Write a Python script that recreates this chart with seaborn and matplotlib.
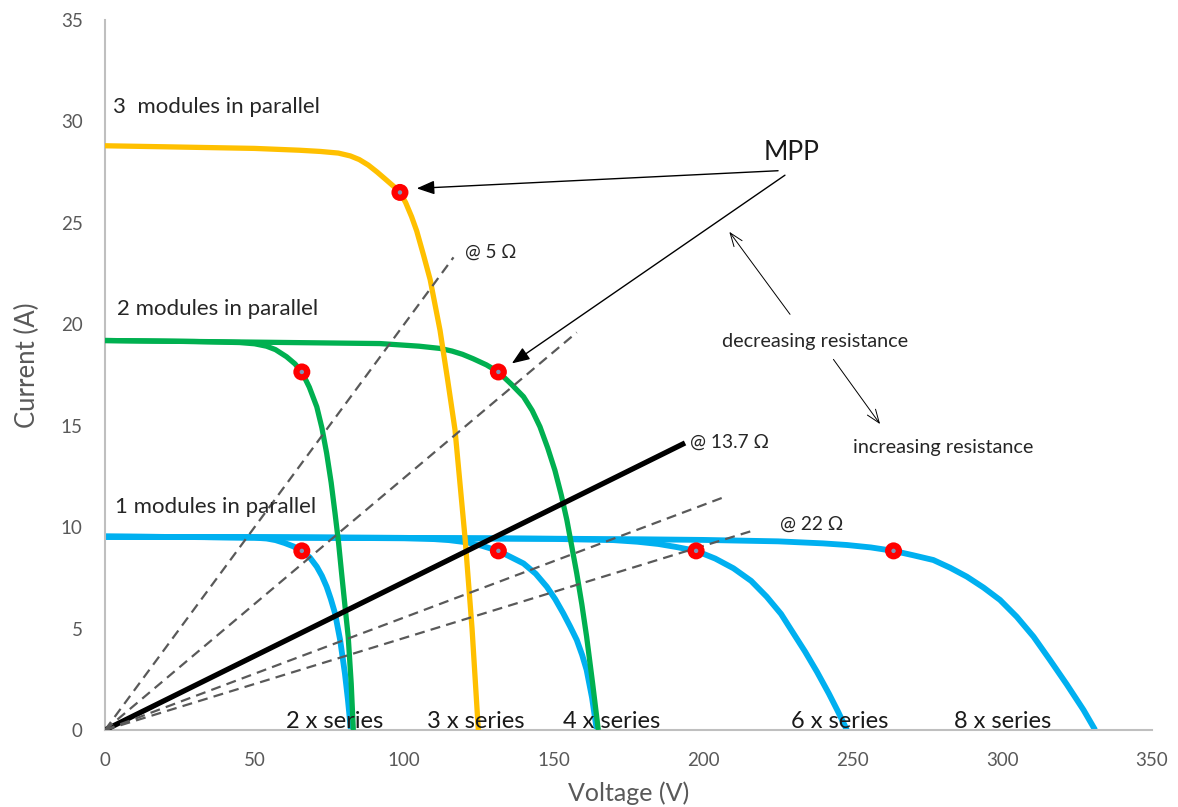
import matplotlib
matplotlib.use("Agg")
import matplotlib.pyplot as plt
import seaborn as sns
import pandas as pd

# ---- I-V curves (voltage V, current A) ----
# 1 module in parallel, 2 / 4 / 6 / 8 modules in series
blue_2s_v = [0, 30, 50, 54, 57, 60, 63, 65.8, 68.5, 70.8, 72.5, 74.1, 75.5, 76.9, 78.6, 80.2, 81.2, 82.2]
blue_2s_i = [9.53, 9.51, 9.48, 9.44, 9.36, 9.22, 9.05, 8.83, 8.5, 8.05, 7.6, 7.06, 6.45, 5.75, 4.44, 2.79, 1.5, 0]

blue_4s_v = [0, 50, 100, 110, 115, 121, 126, 131.5, 136, 139.9, 144, 147.7, 150.5, 153.2, 155.5, 157.7, 159.5, 161, 162.8, 164.4]
blue_4s_i = [9.53, 9.5, 9.45, 9.41, 9.36, 9.25, 9.08, 8.83, 8.5, 8.21, 7.7, 7.06, 6.45, 5.75, 5.1, 4.44, 3.7, 2.96, 1.6, 0]

blue_6s_v = [0, 50, 100, 150, 170, 178, 185, 191, 197.6, 204, 210.1, 216, 221.2, 226, 230.1, 234, 238, 242, 245, 248]
blue_6s_i = [9.53, 9.5, 9.47, 9.42, 9.36, 9.28, 9.17, 9.02, 8.83, 8.45, 7.97, 7.35, 6.57, 5.72, 4.77, 3.87, 2.87, 1.79, 0.92, 0]

blue_8s_v = [0, 50, 100, 150, 180, 200, 225, 240, 248, 256, 263.6, 270, 276.9, 282.5, 288.1, 293.7, 299.2,
             304.8, 310.4, 315.9, 321.5, 327.1, 331]
blue_8s_i = [9.53, 9.5, 9.47, 9.43, 9.4, 9.37, 9.3, 9.2, 9.12, 9.0, 8.83, 8.62, 8.38, 8.0, 7.56, 7.02, 6.41,
             5.58, 4.6, 3.45, 2.25, 0.99, 0]

# 2 modules in parallel, 2 / 4 modules in series
green_2s_v = [0, 30, 45, 50, 54, 57, 60.7, 63.5, 65.8, 68.3, 70.8, 72.5, 74.1, 75.6, 76.9, 78.1, 79.1, 80.3, 81.3, 82.3, 83]
green_2s_i = [19.2, 19.15, 19.1, 19.04, 18.92, 18.75, 18.4, 18.05, 17.65, 16.9, 15.93, 14.9, 13.64, 12.2, 10.68, 9.2,
              7.72, 6.0, 4.6, 2.3, 0]

green_4s_v = [0, 50, 91.9, 105, 112, 116, 119.5, 123.1, 127.5, 131.5, 135.8, 139.9, 142.8, 145.4, 148, 150.4, 152.5,
              154.4, 156.1, 157.7, 159.4, 161, 163, 164.9]
green_4s_i = [19.2, 19.12, 19.05, 18.92, 18.81, 18.68, 18.52, 18.3, 18.0, 17.65, 17.05, 16.43, 15.75, 14.95, 13.9,
              12.8, 11.6, 10.35, 9.0, 7.72, 6.2, 4.6, 2.3, 0]

# 3 modules in parallel, 3 modules in series
yellow_3s_v = [0, 20, 50, 65, 72, 78, 82, 85, 88, 91, 94, 96.5, 98.6, 100.5, 102.5, 104.2, 106.5, 108.7, 112, 114.5,
               117, 120.4, 122.7, 124.8]
yellow_3s_i = [28.8, 28.75, 28.67, 28.58, 28.52, 28.44, 28.3, 28.12, 27.85, 27.5, 27.12, 26.8, 26.5, 26.0, 25.3, 24.6,
               23.4, 22.2, 19.7, 17.3, 14.8, 9.4, 5.0, 0]

# ---- maximum power points ----
mpp_v = [98.6, 65.8, 131.5, 65.8, 131.5, 197.6, 263.6]
mpp_i = [26.5, 17.65, 17.65, 8.83, 8.83, 8.83, 8.83]

# ---- load lines from the origin (end voltage, end current) ----
load_dashed_v = [116.5, 157.7, 207.3, 217.3]
load_dashed_i = [23.3, 19.6, 11.5, 9.86]
load_solid_v = [0, 193.9]
load_solid_i = [0, 14.15]

# ---- text labels ----
parallel_labels = ["3  modules in parallel", "2 modules in parallel", "1 modules in parallel"]
parallel_label_v = [2.7, 4.0, 3.3]
parallel_label_i = [30.41, 20.45, 10.68]

series_labels = ["2 x series", "3 x series", "4 x series", "6 x series", "8 x series"]
series_label_v = [76.7, 124.0, 169.3, 245.7, 299.9]

x_ticks = [0, 50, 100, 150, 200, 250, 300, 350]
y_ticks = [0, 5, 10, 15, 20, 25, 30, 35]

BLUE = "#00B0F0"
GREEN = "#00B050"
YELLOW = "#FFC000"
GRAY_TXT = "#595959"
DASH = "#595959"
TXT = "#262626"

sns.set_theme(style="white")
plt.rcParams["font.family"] = ["Lato", "DejaVu Sans"]

fig = plt.figure(figsize=(11.78, 8.07), dpi=100)
ax = fig.add_axes([105 / 1178, 77 / 807, 1047 / 1178, 710 / 807])


def draw(v, i, color, lw, z, **kw):
    df = pd.DataFrame({"v": v, "i": i})
    sns.lineplot(data=df, x="v", y="i", ax=ax, color=color, lw=lw, sort=False,
                 estimator=None, zorder=z, solid_capstyle="butt",
                 solid_joinstyle="round", **kw)


for v, i in [(blue_2s_v, blue_2s_i), (blue_4s_v, blue_4s_i),
             (blue_6s_v, blue_6s_i), (blue_8s_v, blue_8s_i)]:
    draw(v, i, BLUE, 4.2, 2)
for v, i in [(green_2s_v, green_2s_i), (green_4s_v, green_4s_i)]:
    draw(v, i, GREEN, 3.8, 3)
draw(yellow_3s_v, yellow_3s_i, YELLOW, 3.8, 4)

draw(load_solid_v, load_solid_i, "black", 3.8, 5)
for ve, ie in zip(load_dashed_v, load_dashed_i):
    draw([0, ve], [0, ie], DASH, 1.6, 6, linestyle=(0, (4.5, 2.8)))

mpp = pd.DataFrame({"v": mpp_v, "i": mpp_i})
sns.scatterplot(data=mpp, x="v", y="i", ax=ax, s=150, color="#FF0000",
                edgecolor="none", zorder=7)
sns.scatterplot(data=mpp, x="v", y="i", ax=ax, s=10, color="#7F93B8",
                edgecolor="none", zorder=8)

# text annotations
for t, x, y in zip(parallel_labels, parallel_label_v, parallel_label_i):
    ax.text(x, y, t, fontsize=16, color=TXT, va="baseline", ha="left", zorder=9)
for t, x in zip(series_labels, series_label_v):
    ax.text(x, 0.08, t, fontsize=17, color="#1a1a1a", va="baseline", ha="center", zorder=9)

ax.text(120.4, 23.3, "@ 5 Ω", fontsize=13.5, color=TXT, va="baseline", ha="left")
ax.text(195.6, 13.9, "@ 13.7 Ω", fontsize=13.8, color=TXT, va="baseline", ha="left")
ax.text(225.7, 9.89, "@ 22 Ω", fontsize=13.8, color=TXT, va="baseline", ha="left")
ax.text(229.5, 28.09, "MPP", fontsize=19, color="#1a1a1a", va="baseline", ha="center")
ax.text(237.4, 18.86, "decreasing resistance", fontsize=14.3, color=TXT, va="baseline", ha="center")
ax.text(280.3, 13.64, "increasing resistance", fontsize=14.3, color=TXT, va="baseline", ha="center")

filled = dict(arrowstyle="-|>,head_length=0.9,head_width=0.35", color="black", lw=1.0,
              shrinkA=0, shrinkB=0)
ax.annotate("", xy=(104.2, 26.7), xytext=(225.0, 27.57), arrowprops=filled)
ax.annotate("", xy=(136.0, 18.07), xytext=(227.3, 27.35), arrowprops=filled)
opened = dict(arrowstyle="->,head_length=0.8,head_width=0.3", color="black", lw=0.7,
              shrinkA=0, shrinkB=0)
ax.annotate("", xy=(208.7, 24.56), xytext=(229.0, 20.49), arrowprops=opened)
ax.annotate("", xy=(259.1, 15.08), xytext=(243.5, 18.27), arrowprops=opened)

# axes styling
ax.set_xlim(0, 350)
ax.set_ylim(0, 35)
ax.set_xticks(x_ticks)
ax.set_yticks(y_ticks)
ax.tick_params(axis="both", length=0, labelsize=13.5, labelcolor=GRAY_TXT, pad=16)
for side in ["top", "right"]:
    ax.spines[side].set_visible(False)
for side in ["left", "bottom"]:
    ax.spines[side].set_color("#BFBFBF")
    ax.spines[side].set_linewidth(1.5)
ax.grid(False)

ax.set_xlabel("Voltage (V)", fontsize=18, color=GRAY_TXT)
ax.set_ylabel("Current (A)", fontsize=18.5, color=GRAY_TXT)
ax.xaxis.set_label_coords(0.5, -0.0887)
ax.xaxis.label.set_va("center")
ax.yaxis.set_label_coords(-0.0745, 0.514)
ax.yaxis.label.set_va("center")

fig.savefig("out.png", dpi=100)
